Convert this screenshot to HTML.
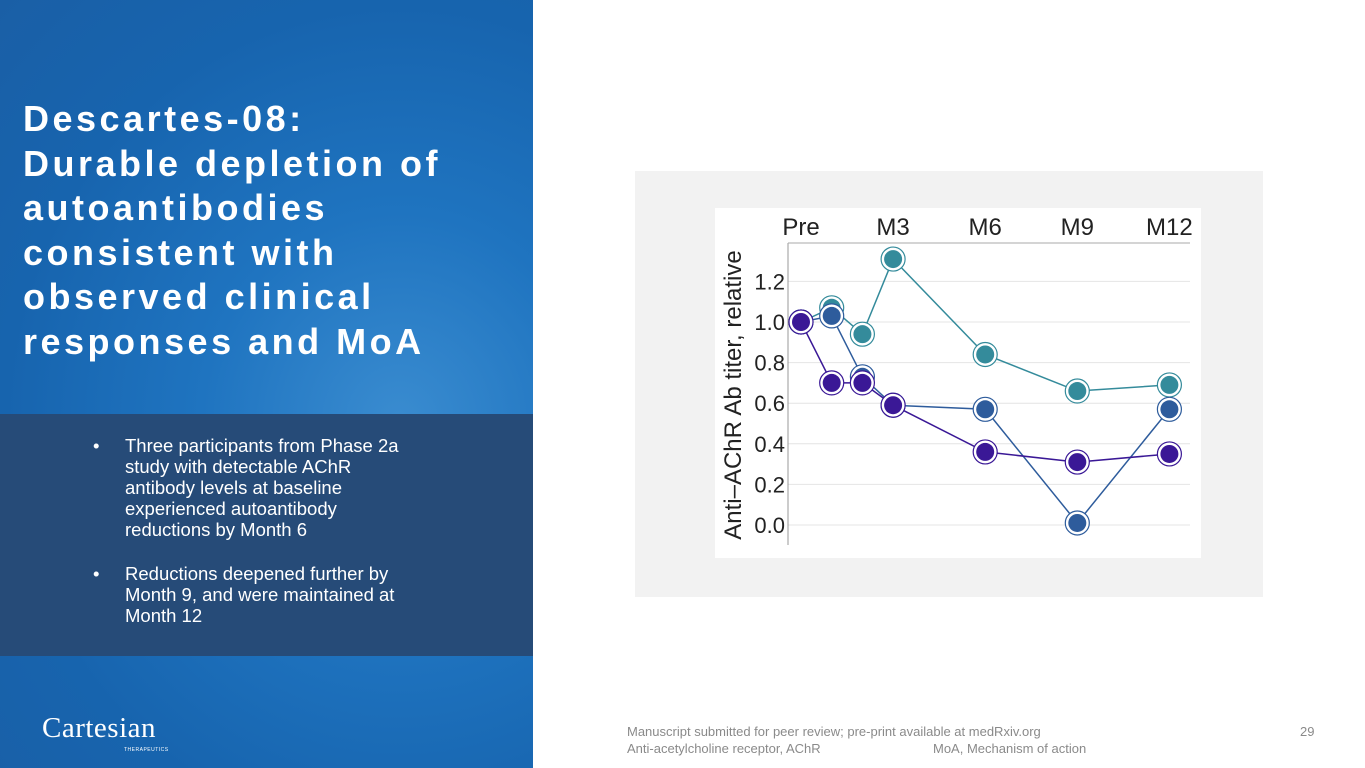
<!DOCTYPE html>
<html><head><meta charset="utf-8"><style>
body{margin:0;width:1365px;height:768px;position:relative;overflow:hidden;background:#fff;font-family:"Liberation Sans",sans-serif}
#left{position:absolute;left:0;top:0;width:533px;height:768px;background:radial-gradient(ellipse at 75% 55%,#3a8cd0 0%,#1f74c0 35%,#1764ae 70%,#1a5fa6 100%)}
#title{position:absolute;left:23px;top:97px;color:#fff;font-weight:bold;font-size:36px;line-height:44.5px;letter-spacing:3.5px;margin:0;white-space:nowrap}
#box{position:absolute;left:0;top:414px;width:533px;height:242px;background:#264b78}
.b{position:absolute;left:93px;color:#fff;font-size:18.5px;line-height:21px}
.b span{position:absolute;left:32px;width:300px}
#logo{position:absolute;left:42px;top:712px;color:#fff;font-family:"Liberation Serif",serif;font-size:29px;letter-spacing:0.5px}
#logo small{position:absolute;left:82px;top:35px;font-family:"Liberation Sans";font-size:5px}
.ft{position:absolute;color:#8a8a8a;font-size:13px}
</style></head><body>
<div id="left">
<h1 id="title">Descartes-08:<br>Durable depletion of<br>autoantibodies<br>consistent with<br>observed clinical<br>responses and MoA</h1>
<div id="box">
<div class="b" style="top:21px">•<span>Three participants from Phase 2a study with detectable AChR antibody levels at baseline experienced autoantibody reductions by Month 6</span></div>
<div class="b" style="top:149px">•<span>Reductions deepened further by Month 9, and were maintained at Month 12</span></div>
</div>
<div id="logo">Cartesian<small>THERAPEUTICS</small></div>
</div>
<div style="position:absolute;left:635px;top:171px;width:628px;height:426px;background:#f2f2f2"></div>
<svg id="chart" style="position:absolute;left:0;top:0" width="1365" height="768"></svg>
<div class="ft" style="left:627px;top:724px">Manuscript submitted for peer review; pre-print available at medRxiv.org</div>
<div class="ft" style="left:627px;top:741px">Anti-acetylcholine receptor, AChR</div>
<div class="ft" style="left:933px;top:741px">MoA, Mechanism of action</div>
<div class="ft" style="left:1300px;top:724px">29</div>
<script>
const months=[0,1,2,3,6,9,12];
const xTickLabels=["Pre","M3","M6","M9","M12"];
const xTickMonths=[0,3,6,9,12];
const yTicks=[0,0.2,0.4,0.6,0.8,1.0,1.2];
const tealValues=[1.0,1.07,0.94,1.31,0.84,0.66,0.69];
const blueValues=[1.0,1.03,0.73,0.59,0.57,0.01,0.57];
const purpleValues=[1.0,0.70,0.70,0.59,0.36,0.31,0.35];
const NS="http://www.w3.org/2000/svg";
const svg=document.getElementById('chart');
const X=m=>801+30.7*m;
const Y=v=>525-203*v;
function mk(t,a){const e=document.createElementNS(NS,t);for(const k in a)e.setAttribute(k,a[k]);svg.appendChild(e);return e;}
let r=mk('rect',{x:715,y:208,width:486,height:350,fill:'#fff'});


yTicks.forEach(v=>{
 let g=mk('line',{x1:788,x2:1190,y1:Y(v),y2:Y(v),stroke:'#e4e4e4','stroke-width':1});
 
 
 let t=mk('text',{x:785,y:Y(v)+8,'text-anchor':'end','font-size':22,fill:'#222','font-family':'Liberation Sans'});
 t.textContent=v.toFixed(1);
 
 
});
let ax=mk('line',{x1:788,x2:788,y1:243,y2:545,stroke:'#999','stroke-width':1});


let ta=mk('line',{x1:788,x2:1190,y1:243,y2:243,stroke:'#aaa','stroke-width':1});


xTickMonths.forEach((m,i)=>{
 let t=mk('text',{x:X(m),y:235,'text-anchor':'middle','font-size':24,fill:'#222','font-family':'Liberation Sans'});
 t.textContent=xTickLabels[i];
 
 
});
let yt=mk('text',{x:0,y:0,'text-anchor':'middle','font-size':24,fill:'#222','font-family':'Liberation Sans',transform:'translate(741,395) rotate(-90)'});
yt.textContent='Anti–AChR Ab titer, relative';


function series(vals,col,name){
 let p=mk('polyline',{points:vals.map((v,i)=>X(months[i])+','+Y(v)).join(' '),fill:'none',stroke:col,'stroke-width':1.5});
 
 
 vals.forEach((v,i)=>{
  let o=mk('circle',{cx:X(months[i]),cy:Y(v),r:12,fill:'#fff',stroke:col,'stroke-width':1.2});
  
  
  let c=mk('circle',{cx:X(months[i]),cy:Y(v),r:9,fill:col});
  
  
 });
}
series(tealValues,'#348b9b','teal-series');
series(blueValues,'#2e5c9c','blue-series');
series(purpleValues,'#3a1896','purple-series');
</script>
</body></html>
